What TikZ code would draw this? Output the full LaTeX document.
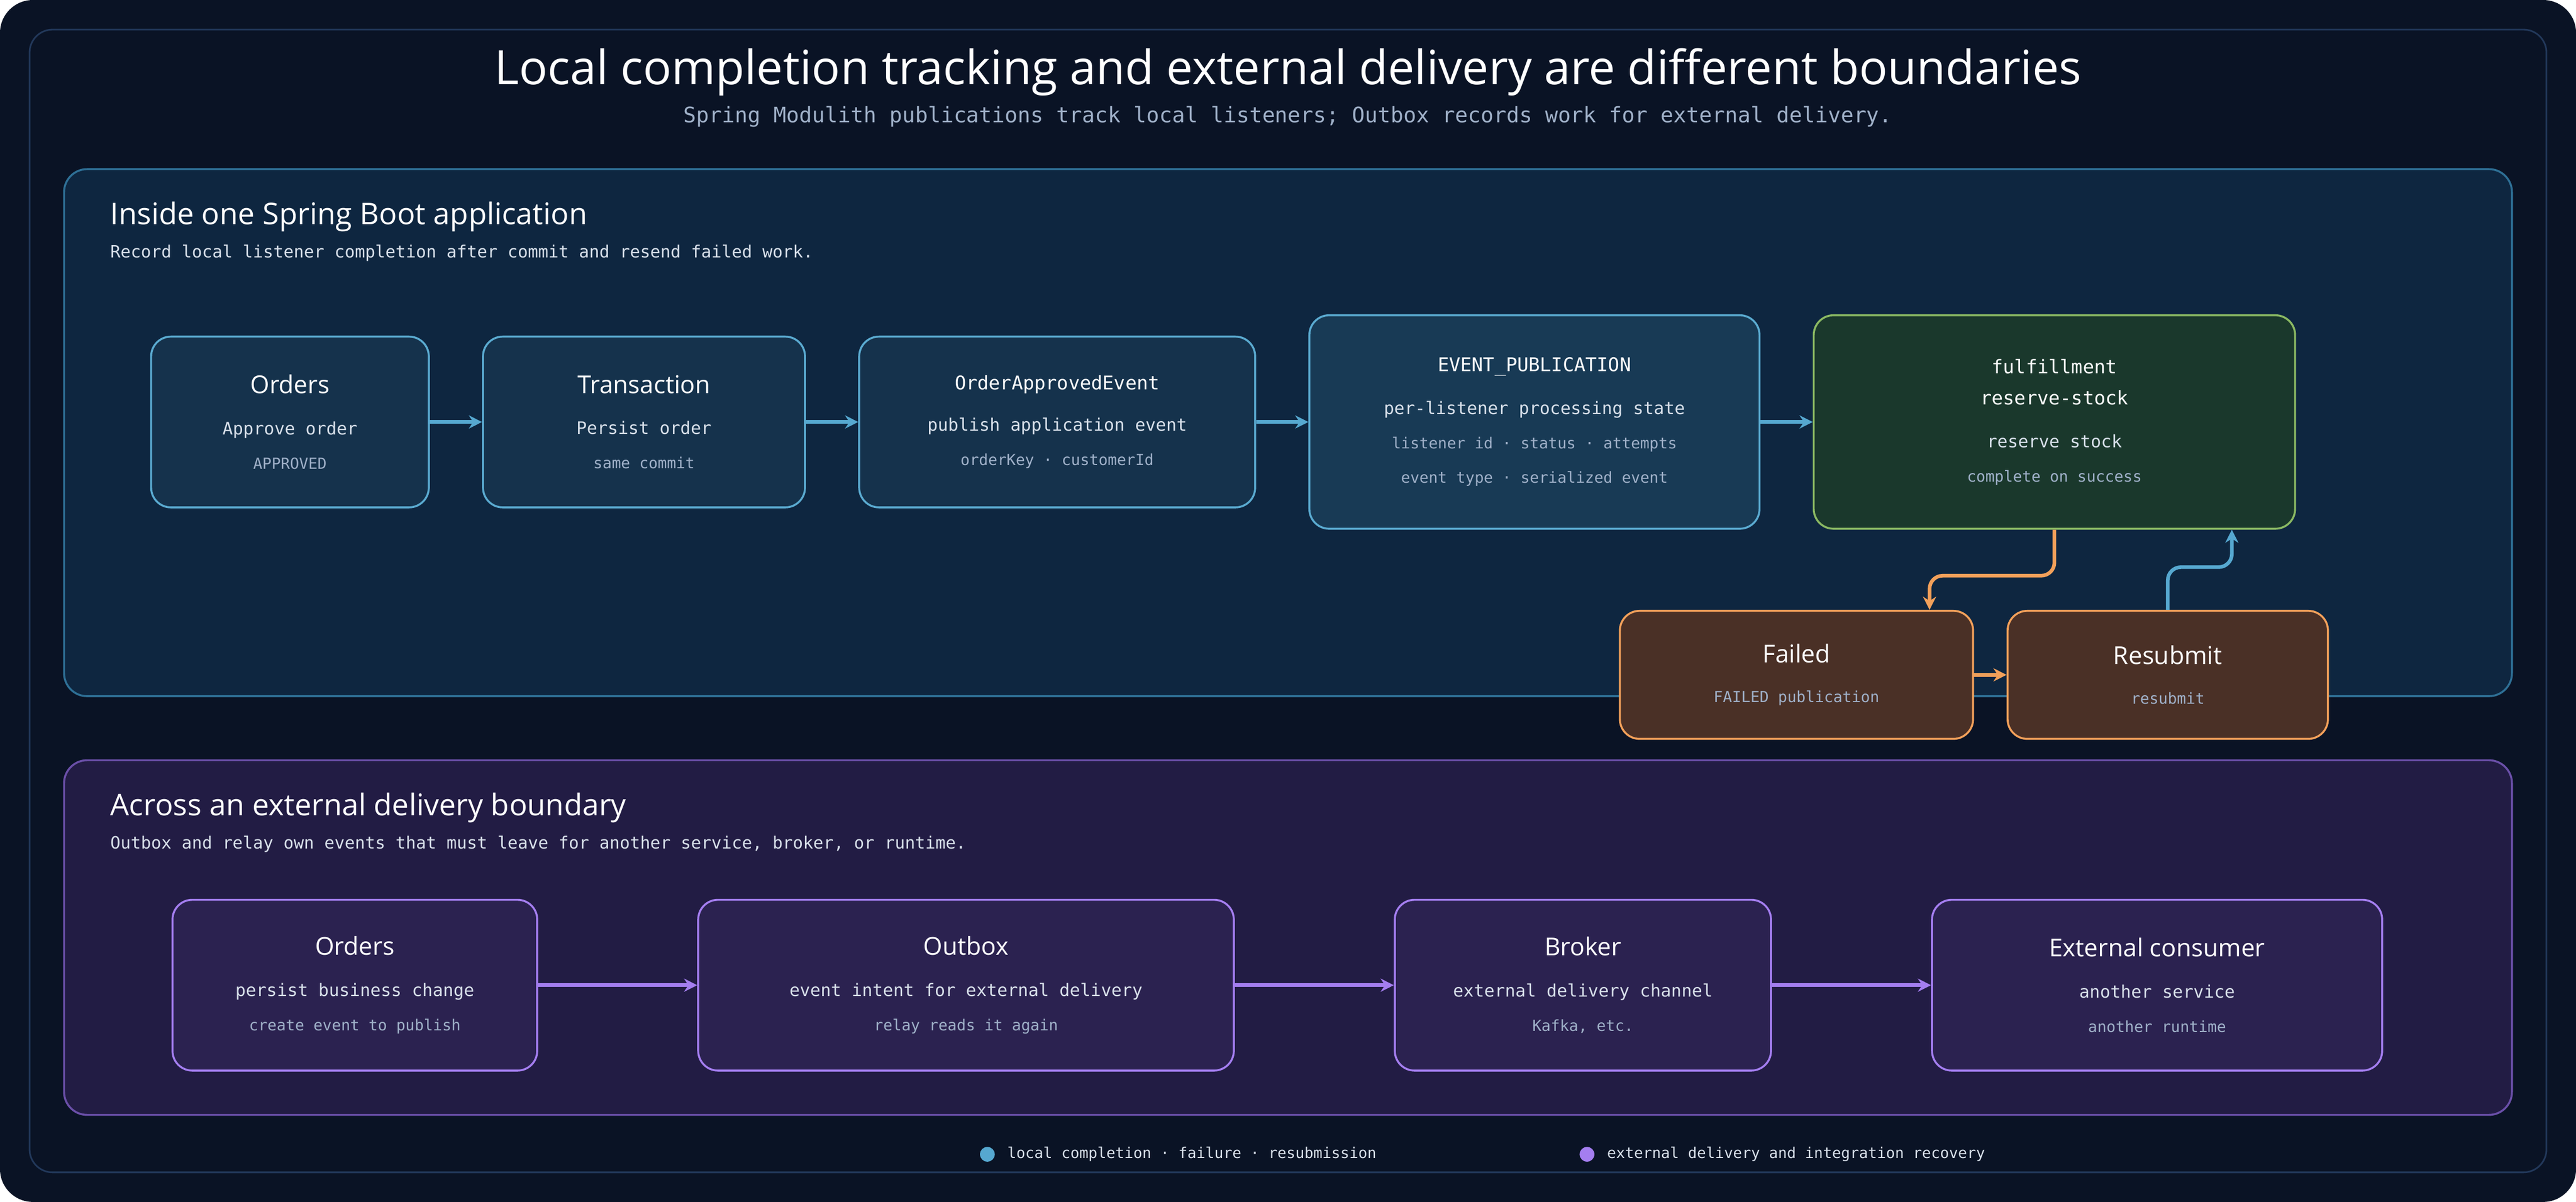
\documentclass[tikz,border=0pt]{standalone}
\usepackage{fontspec}
\setmainfont{Open Sans}
\setsansfont{Open Sans}
\setmonofont{DejaVu Sans Mono}
\usetikzlibrary{arrows.meta,positioning}

\definecolor{bgpage}{HTML}{0A1325}
\definecolor{frameline}{HTML}{22385A}
\definecolor{subtext}{HTML}{9FB0C8}
\definecolor{bodytext}{HTML}{D8E0EA}
\definecolor{localfill}{HTML}{0E2640}
\definecolor{localline}{HTML}{2E6F95}
\definecolor{extfill}{HTML}{221C44}
\definecolor{extline}{HTML}{6A4FA8}
\definecolor{stepfill}{HTML}{15324C}
\definecolor{stepline}{HTML}{5AAAD0}
\definecolor{pubfill}{HTML}{183A55}
\definecolor{okfill}{HTML}{1A382C}
\definecolor{okline}{HTML}{8AB863}
\definecolor{failfill}{HTML}{4A3026}
\definecolor{failline}{HTML}{F2A05A}
\definecolor{relfill}{HTML}{2B2250}
\definecolor{relline}{HTML}{A47EF0}
\definecolor{localarrow}{HTML}{56A8D0}

\newcommand{\boxtext}[3]{{\fontsize{15}{18}\selectfont\color{white}#1}\\[13pt]
  {\ttfamily\fontsize{10.5}{12}\selectfont\color{bodytext}#2}\\[9pt]
  {\ttfamily\fontsize{9.3}{11}\selectfont\color{subtext}#3}}

\tikzset{
  stage/.style={draw=stepline, fill=stepfill, line width=1.2pt, rounded corners=12pt,
    align=center, inner sep=0pt},
  pub/.style={stage, fill=pubfill},
  done/.style={stage, draw=okline, fill=okfill},
  fail/.style={stage, draw=failline, fill=failfill},
  relay/.style={stage, draw=relline, fill=relfill},
  flow/.style={-{Stealth[length=8pt,width=8pt]}, line width=2.2pt, color=localarrow},
  failflow/.style={flow, color=failline, rounded corners=8pt},
  backflow/.style={flow, rounded corners=8pt},
  relflow/.style={flow, color=relline},
  panelhead/.style={anchor=west, inner sep=0pt, color=white, font=\fontsize{18.2}{21}\selectfont},
  panelsub/.style={anchor=west, inner sep=0pt, color=bodytext, font=\ttfamily\fontsize{10.3}{12}\selectfont}
}

\begin{document}
\begin{tikzpicture}[x=1pt, y=-1pt]
    \useasboundingbox (0,0) rectangle (1568,732);
    % Page and frame
    \fill [bgpage, rounded corners=20pt] (0,0) rectangle (1568,732);
    \draw [frameline, line width=1pt, rounded corners=14pt] (18,18) rectangle (1550,714);
    \node (title) at (784,44) [color=white, font=\fontsize{28.8}{32}\selectfont] {Local completion tracking and external delivery are different boundaries};
    \node (subtitle) at (784,71) [color=subtext, font=\ttfamily\fontsize{13}{15}\selectfont] {Spring Modulith publications track local listeners; Outbox records work for external delivery.};

    % Panels
    \draw [localline, fill=localfill, line width=1.2pt, rounded corners=14pt] (39,103) rectangle (1529,424);
    \node (localhead) at (67,132) [panelhead] {Inside one Spring Boot application};
    \node (localsub) at (67,154) [panelsub] {Record local listener completion after commit and resend failed work.};
    \draw [extline, fill=extfill, line width=1.2pt, rounded corners=14pt] (39,463) rectangle (1529,679);
    \node (exthead) at (67,492) [panelhead] {Across an external delivery boundary};
    \node (extsub) at (67,514) [panelsub] {Outbox and relay own events that must leave for another service, broker, or runtime.};

    % Local nodes
    \node [stage, minimum width=169pt, minimum height=104pt] (orders) at (176.5,257) {\boxtext{Orders}{Approve order}{APPROVED}};
    \node [stage, minimum width=196pt, minimum height=104pt] (tx) at (392,257) {\boxtext{Transaction}{Persist order}{same commit}};
    \node [stage, minimum width=241pt, minimum height=104pt] (event) at (643.5,257) {{\ttfamily\fontsize{11.5}{14}\selectfont\color{white}OrderApprovedEvent}\\[13pt]
      {\ttfamily\fontsize{10.5}{12}\selectfont\color{bodytext}publish application event}\\[9pt]
      {\ttfamily\fontsize{9.3}{11}\selectfont\color{subtext}orderKey · customerId}};
    \node [pub, minimum width=274pt, minimum height=130pt] (pubs) at (934,257) {{\ttfamily\fontsize{11.5}{14}\selectfont\color{white}EVENT\_PUBLICATION}\\[14pt]
      {\ttfamily\fontsize{10.5}{12}\selectfont\color{bodytext}per-listener processing state}\\[9pt]
      {\ttfamily\fontsize{9.3}{11}\selectfont\color{subtext}listener id · status · attempts}\\[9pt]
      {\ttfamily\fontsize{9.3}{11}\selectfont\color{subtext}event type · serialized event}};
    \node [done, minimum width=293pt, minimum height=130pt] (fulfil) at (1250.5,257) {{\ttfamily\fontsize{11.5}{14}\selectfont\color{white}fulfillment}\\[7pt]
      {\ttfamily\fontsize{11.5}{14}\selectfont\color{white}reserve-stock}\\[14pt]
      {\ttfamily\fontsize{10.5}{12}\selectfont\color{bodytext}reserve stock}\\[9pt]
      {\ttfamily\fontsize{9.3}{11}\selectfont\color{subtext}complete on success}};
    \node [fail, minimum width=215pt, minimum height=78pt] (failed) at (1093.5,411) {{\fontsize{15}{18}\selectfont\color{white}Failed}\\[12pt]
      {\ttfamily\fontsize{9.3}{11}\selectfont\color{subtext}FAILED publication}};
    \node [fail, minimum width=195pt, minimum height=78pt] (resubmit) at (1319.5,411) {{\fontsize{15}{18}\selectfont\color{white}Resubmit}\\[12pt]
      {\ttfamily\fontsize{9.3}{11}\selectfont\color{subtext}resubmit}};

    % Local paths
    \draw [flow] (orders) -- (tx);
    \draw [flow] (tx) -- (event);
    \draw [flow] (event) -- (pubs);
    \draw [flow] (pubs) -- (fulfil);
    \draw [flow, color=failline] (failed) -- (resubmit);
    \draw [failflow] (fulfil.south) -- ++(0,28) -| ([xshift=81pt]failed.north);
    \draw [backflow] (resubmit.north) -- ++(0,-26) -| ([xshift=108pt]fulfil.south);

    % External nodes
    \node [relay, minimum width=222pt, minimum height=104pt] (extorders) at (216,600) {\boxtext{Orders}{persist business change}{create event to publish}};
    \node [relay, minimum width=326pt, minimum height=104pt] (outbox) at (588,600) {\boxtext{Outbox}{event intent for external delivery}{relay reads it again}};
    \node [relay, minimum width=229pt, minimum height=104pt] (broker) at (963.5,600) {\boxtext{Broker}{external delivery channel}{Kafka, etc.}};
    \node [relay, minimum width=274pt, minimum height=104pt] (consumer) at (1313,600) {\boxtext{External consumer}{another service}{another runtime}};

    % External paths
    \draw [relflow] (extorders) -- (outbox);
    \draw [relflow] (outbox) -- (broker);
    \draw [relflow] (broker) -- (consumer);

    % Legend
    \fill [localarrow] (601,703) circle (4.5pt);
    \node (loclegend) at (613,703) [anchor=west, inner sep=0pt, color=bodytext, font=\ttfamily\fontsize{9.1}{11}\selectfont] {local completion · failure · resubmission};
    \fill [relline] (966,703) circle (4.5pt);
    \node (extlegend) at (978,703) [anchor=west, inner sep=0pt, color=bodytext, font=\ttfamily\fontsize{9.1}{11}\selectfont] {external delivery and integration recovery};
\end{tikzpicture}
\end{document}
